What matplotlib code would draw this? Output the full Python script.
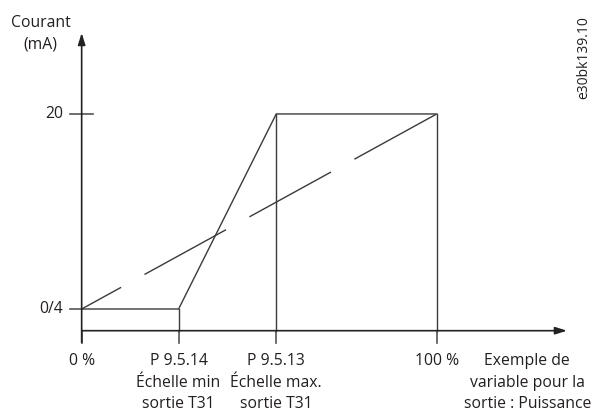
import matplotlib
matplotlib.use("Agg")
import matplotlib.pyplot as plt

plt.rcParams['font.family'] = ['Open Sans', 'DejaVu Sans']
plt.rcParams['lines.scale_dashes'] = False

# Data (x in % of output variable, y in mA)
x_ticks = [0, 27.3, 54.8, 100]
x_labels = ["0 %", "P 9.5.14\nÉchelle min\nsortie T31", "P 9.5.13\nÉchelle max.\nsortie T31", "100 %"]
y_ticks = [4, 20]
y_labels = ["0/4", "20"]
solid_x = [0, 27.3, 54.8, 100]
solid_y = [4, 4, 20, 20]
dashed_x = [0, 100]
dashed_y = [4, 20]
y_label = "Courant\n(mA)"
x_label = "Exemple de\nvariable pour la\nsortie : Puissance"
code = "e30bk139.10"

fig = plt.figure(figsize=(5.94, 4.12), dpi=100)
ax = fig.add_axes([0, 0, 1, 1])
ax.set_xlim(-23.0, 144.3)
ax.set_ylim(-4.45, 29.35)
ax.axis('off')

txt = '#231f20'
axc = '#555555'
lc = '#3a3a3a'
fs = 11.3
ls = 1.45

x0 = 2.22   # x-axis position (mA scale)
tick_bot = 1.25
# axes with arrows
ax.annotate('', xy=(0, 26.65), xytext=(0, tick_bot),
            arrowprops=dict(arrowstyle='-|>,head_length=0.7,head_width=0.22', color='#222222', lw=1.2, shrinkA=0, shrinkB=0))
ax.annotate('', xy=(136.7, x0), xytext=(0, x0),
            arrowprops=dict(arrowstyle='-|>,head_length=0.7,head_width=0.22', color='#222222', lw=1.2, shrinkA=0, shrinkB=0))

# y ticks
for yv in y_ticks:
    ax.plot([-3.4, 0], [yv, yv], color=axc, lw=1.2)
ax.plot([0, 3.2], [20, 20], color=axc, lw=1.2)
for yv, lab in zip(y_ticks, y_labels):
    ax.text(-5.3, yv, lab, ha='right', va='center', fontsize=fs, color=txt)

# x ticks
for xv in x_ticks:
    ax.plot([xv, xv], [tick_bot, x0], color=axc, lw=1.2)
for xv, lab in zip(x_ticks, x_labels):
    ax.text(xv, 0.35, lab, ha='center', va='top', fontsize=fs, color=txt, linespacing=ls)

# solid curve
ax.plot(solid_x, solid_y, color=lc, lw=1.0)
ax.plot([solid_x[2], solid_x[2]], [20, x0], color=lc, lw=1.0)
ax.plot([solid_x[3], solid_x[3]], [20, x0], color=lc, lw=1.0)
ax.plot([solid_x[1], solid_x[1]], [4, x0], color=lc, lw=1.0)

# dashed curve
ax.plot(dashed_x, dashed_y, color=lc, lw=1.0, linestyle=(34.6, (67.0, 19.2)))

ax.text(-11.6, 26.55, y_label, ha='center', va='center', fontsize=fs, color=txt, linespacing=ls)
ax.text(125.5, 0.35, x_label, ha='center', va='top', fontsize=fs, color=txt, linespacing=ls)
ax.text(141.5, 24.6, code, ha='center', va='center', rotation=90, fontsize=10, color=txt)

fig.savefig('out.png', dpi=100)
